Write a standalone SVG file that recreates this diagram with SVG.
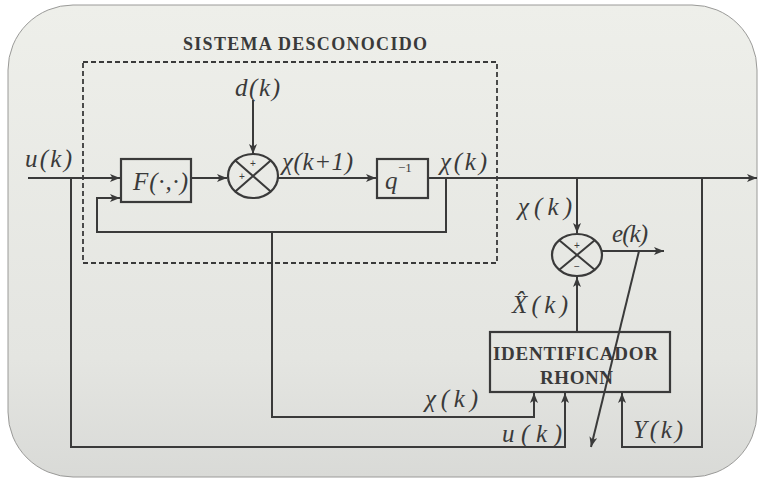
<svg xmlns="http://www.w3.org/2000/svg" width="758" height="479" viewBox="0 0 758 479">
<defs>
<linearGradient id="bg" x1="0" y1="0" x2="0" y2="1">
<stop offset="0" stop-color="#eeefea"/>
<stop offset="0.75" stop-color="#e4e5e1"/>
<stop offset="1" stop-color="#d9dad7"/>
</linearGradient>
<marker id="ah" viewBox="0 0 10 8" refX="10" refY="4" markerWidth="10" markerHeight="8" markerUnits="userSpaceOnUse" orient="auto">
<path d="M0,0 L10,4 L0,8 L2.5,4 Z" fill="#3a3a3a"/>
</marker>
<style>
.ln{fill:none;stroke:#3a3a3a;stroke-width:2}
.bx{fill:none;stroke:#3a3a3a;stroke-width:2.2}
.lab{font-family:"Liberation Serif",serif;font-style:italic;font-size:25px;fill:#3a3a3a}
.sup{font-family:"Liberation Serif",serif;font-size:13px;fill:#3a3a3a}
.bold{font-family:"Liberation Serif",serif;font-weight:bold;fill:#3a3a3a}
.sg{font-family:"Liberation Sans",sans-serif;font-size:10px;fill:#3a3a3a;text-anchor:middle}
</style>
</defs>
<rect width="758" height="479" fill="#ffffff"/>
<rect x="8" y="5" width="749" height="472" rx="65" ry="65" fill="url(#bg)" stroke="#9a9a98" stroke-width="1"/>
<text class="bold" x="183" y="50" font-size="18" textLength="244">SISTEMA DESCONOCIDO</text>
<rect id="unknown-system" x="83" y="62" width="414" height="201" fill="none" stroke="#3a3a3a" stroke-width="1.8" stroke-dasharray="5,3"/>
<g id="connectors">
<path class="ln" d="M28,178 H120" marker-end="url(#ah)"/>
<path class="ln" d="M446,178 V232 H97 V198 H120" marker-end="url(#ah)"/>
<path class="ln" d="M191,178 H227" marker-end="url(#ah)"/>
<path class="ln" d="M253,100 V154" marker-end="url(#ah)"/>
<path class="ln" d="M278,178 H376" marker-end="url(#ah)"/>
<path class="ln" d="M428,178 H757" marker-end="url(#ah)"/>
<path class="ln" d="M577,178 V233" marker-end="url(#ah)"/>
<path class="ln" d="M602,251 H664" marker-end="url(#ah)"/>
<path class="ln" d="M639,251 L591,447" marker-end="url(#ah)"/>
<path class="ln" d="M577,332 V277" marker-end="url(#ah)"/>
<path class="ln" d="M272,232 V417 H534 V393" marker-end="url(#ah)"/>
<path class="ln" d="M71,178 V447 H565 V393" marker-end="url(#ah)"/>
<path class="ln" d="M702,178 V447 H622 V393" marker-end="url(#ah)"/>
</g>
<g id="F">
<rect class="bx" x="121" y="159" width="70" height="43"/>
<text class="lab" x="133" y="190" font-size="25" textLength="55">F(·,·)</text>
</g>
<g id="sum1">
<ellipse class="bx" cx="253" cy="176" rx="25" ry="22"/>
<path class="ln" d="M235.3,160.4 L270.7,191.6 M270.7,160.4 L235.3,191.6"/>
<text class="sg" x="253" y="167">+</text>
<text class="sg" x="242" y="180">+</text>
</g>
<g id="delay">
<rect class="bx" x="377" y="159" width="51" height="39"/>
<text class="lab" x="385" y="189" font-size="27">q</text>
<text class="sup" x="398" y="172">−1</text>
</g>
<g id="sum2">
<ellipse class="bx" cx="577" cy="255" rx="25" ry="21"/>
<path class="ln" d="M559.3,240.2 L594.7,269.8 M594.7,240.2 L559.3,269.8"/>
<text class="sg" x="577" y="249">+</text>
<text class="sg" x="577" y="270">−</text>
</g>
<g id="rhonn">
<rect class="bx" x="490" y="332" width="180" height="60"/>
<text class="bold" x="493" y="360" font-size="19" textLength="165">IDENTIFICADOR</text>
<text class="bold" x="540" y="384" font-size="19" textLength="73">RHONN</text>
</g>
<g id="labels">
<text class="lab" x="25" y="167" textLength="47">u(k)</text>
<text class="lab" x="235" y="96" textLength="45">d(k)</text>
<text class="lab" x="282" y="170" textLength="71">χ(k+1)</text>
<text class="lab" x="440" y="170" textLength="47">χ(k)</text>
<text class="lab" x="518" y="215" textLength="54">χ(k)</text>
<text class="lab" x="612" y="242" textLength="36">e(k)</text>
<text class="lab" x="512" y="313" textLength="56">X̂(k)</text>
<text class="lab" x="425" y="407" textLength="53">χ(k)</text>
<text class="lab" x="502" y="442" textLength="60">u(k)</text>
<text class="lab" x="633" y="438" textLength="50">Y(k)</text>
</g>
</svg>
